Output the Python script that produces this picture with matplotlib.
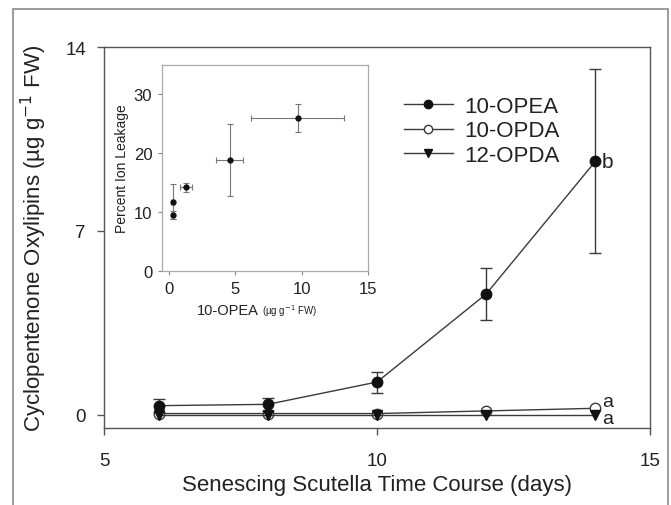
import matplotlib
matplotlib.use("Agg")
import matplotlib.pyplot as plt
from matplotlib.patches import Rectangle
from matplotlib.lines import Line2D

plt.rcParams['font.family'] = ['Liberation Sans', 'DejaVu Sans']

# ---- main data ----
days = [6, 8, 10, 12, 14]
opea = [0.35, 0.40, 1.25, 4.6, 9.65]
opea_err = [0.25, 0.25, 0.40, 1.0, 3.5]
opda10 = [0.05, 0.05, 0.05, 0.15, 0.25]
opda12 = [0.0, 0.0, 0.0, 0.0, 0.0]
labels = ['10-OPEA', '10-OPDA', '12-OPDA']
sig_letters = ['b', 'a', 'a']

# ---- inset data ----
ins_x = [0.3, 0.3, 1.3, 4.6, 9.7]
ins_xerr = [0.1, 0.1, 0.45, 1.0, 3.5]
ins_y = [9.5, 11.8, 14.2, 18.8, 26.0]
ins_yerr = [0.7, 3.0, 0.8, 6.1, 2.3]

W, H = 671, 506
fig = plt.figure(figsize=(W / 100, H / 100), dpi=100)
fig.patch.set_facecolor('white')

# outer border
fig.add_artist(Rectangle((13 / W, -0.05), (668 - 13) / W, 1.05 - 10 / H,
                         transform=fig.transFigure, fill=False,
                         edgecolor='#8a8a8a', linewidth=1.2))

dark = '#3a3a3a'
ax = fig.add_axes([104 / W, 1 - 429 / H, (650 - 104) / W, (429 - 48) / H])
ax.set_facecolor('none')
ax.errorbar(days, opea, yerr=opea_err, color=dark, marker='o', ms=7.5,
            mfc='#111111', mec='#111111', lw=1.0, capsize=4.5, elinewidth=1.0,
            capthick=1.0, zorder=3)
ax.plot(days, opda10, color=dark, marker='o', ms=7.5, mfc='white', mec=dark,
        lw=1.0, zorder=2)
ax.plot(days, opda12, color=dark, marker='v', ms=7.5, mfc='#111111', mec='#111111',
        lw=1.0, zorder=4)

ax.text(14.12, opea[-1], sig_letters[0], fontsize=15, va='center', ha='left', color='#222222')
ax.text(14.12, opda10[-1] + 0.25, sig_letters[1], fontsize=14, va='center', ha='left', color='#222222')
ax.text(14.12, opda12[-1] - 0.12, sig_letters[2], fontsize=14, va='center', ha='left', color='#222222')

ax.set_xlim(5, 15)
ax.set_ylim(-0.5, 14)
ax.set_xticks([5, 10, 15])
ax.set_yticks([0, 7, 14])
ax.tick_params(axis='both', direction='out', length=5, width=1.0, color='#555555',
               labelsize=13.5, labelcolor='#222222')
ax.tick_params(axis='x', pad=12)
ax.tick_params(axis='y', pad=8)
for s in ax.spines.values():
    s.set_color('#555555')
    s.set_linewidth(1.0)
ax.set_xlabel('Senescing Scutella Time Course (days)', fontsize=16, color='#222222', labelpad=4)
ax.set_ylabel('Cyclopentenone Oxylipins (µg g$^{-1}$ FW)', fontsize=16, color='#222222', labelpad=12)

handles = [
    Line2D([], [], color=dark, lw=1.0, marker='o', ms=6, mfc='#111111', mec='#111111'),
    Line2D([], [], color=dark, lw=1.0, marker='o', ms=6, mfc='white', mec=dark),
    Line2D([], [], color=dark, lw=1.0, marker='v', ms=6, mfc='#111111', mec='#111111'),
]
leg = ax.legend(handles, labels, loc='upper left', bbox_to_anchor=(384 / W, 1 - 77 / H),
                bbox_transform=fig.transFigure, frameon=False, fontsize=16,
                handlelength=2.2, handletextpad=0.5, labelspacing=0.15)
for t in leg.get_texts():
    t.set_color('#222222')

# ---- inset ----
ia = fig.add_axes([162 / W, 1 - 272 / H, (368 - 162) / W, (272 - 66) / H])
ia.set_facecolor('white')
ia.errorbar(ins_x, ins_y, xerr=ins_xerr, yerr=ins_yerr, fmt='o', ms=3.5,
            color='#111111', ecolor='#777777', elinewidth=0.8, capsize=2,
            capthick=0.8)
ia.set_xlim(-0.5, 15)
ia.set_ylim(0, 35)
ia.set_xticks([0, 5, 10, 15])
ia.set_yticks([0, 10, 20, 30])
ia.tick_params(axis='both', direction='out', length=3, width=0.8, color='#888888',
               labelsize=12, labelcolor='#222222', pad=4)
for s in ia.spines.values():
    s.set_color('#aaaaaa')
    s.set_linewidth(0.9)
ia.set_ylabel('Percent Ion Leakage', fontsize=10, color='#222222', labelpad=3)
ia.text(0.47, -0.19, '10-OPEA', transform=ia.transAxes, fontsize=10.5,
        ha='right', va='center', color='#222222')
ia.text(0.485, -0.19, '(µg g$^{-1}$ FW)', transform=ia.transAxes, fontsize=7,
        ha='left', va='center', color='#222222')

fig.savefig('out.png', dpi=100)
